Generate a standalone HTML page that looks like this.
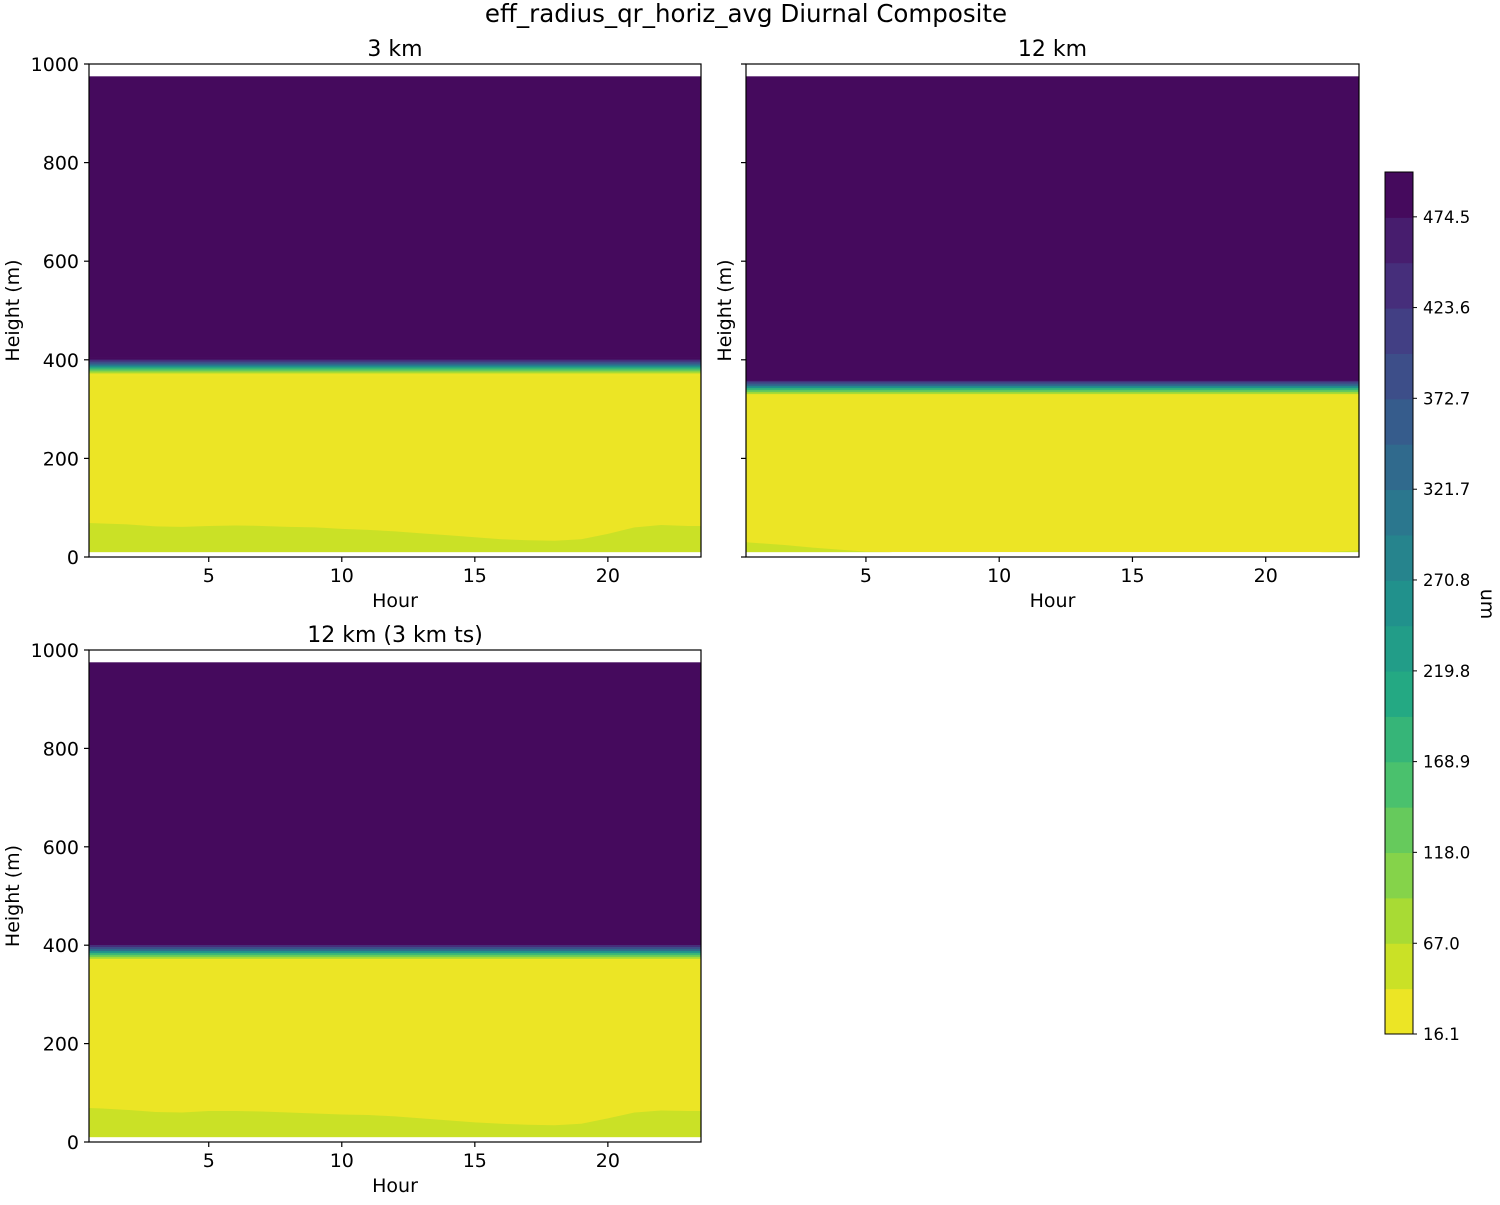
<!DOCTYPE html>
<html><head><meta charset="utf-8">
<style>
html,body{margin:0;padding:0;background:#fff;}
svg text{font-family:"DejaVu Sans","Liberation Sans",sans-serif;fill:#000;}
</style></head>
<body>
<svg id="fig" width="1500" height="1200" xmlns="http://www.w3.org/2000/svg">
<text x="746" y="22" font-size="24.5" text-anchor="middle">eff_radius_qr_horiz_avg Diurnal Composite</text>
</svg>
<script>
// ---- data ----
const hours = [0.5,1,2,3,4,5,6,7,8,9,10,11,12,13,14,15,16,17,18,19,20,21,22,23,23.5];
const greenTop3km = [69,68,66,62,61,63,64,63,61,60,57,55,52,48,44,40,36,34,33,36,47,60,65,63,63];
const greenTop12km = [30,28,24,19,15,11,10,10,10,10,10,10,10,10,10,10,10,10,10,10,10,10,10,12,14];
const greenTop12km3ts = [69,68,65,61,60,63,63,62,60,58,56,55,52,48,44,40,37,35,34,37,48,60,64,63,63];
const transHeights3km = [369,373,377,381,385,389,393,397,401,404];
const transHeights12km = [327,331,335,339,343,347,351,355,358,360];
const transValues = [16.1,45,90,150,220,290,360,420,470,500];
const cbTicks = [16.1,67.0,118.0,168.9,219.8,270.8,321.7,372.7,423.6,474.5];
const levelMin = 16.1, levelStep = 25.45, nLevels = 19;
const dataBottom = 10, dataTop = 975;

const NS = "http://www.w3.org/2000/svg";
const fig = document.getElementById('fig');
function mk(tag, attrs, parent){const e=document.createElementNS(NS,tag);for(const k in attrs)e.setAttribute(k,attrs[k]);(parent||fig).appendChild(e);return e;}

const vir = [[68,1,84],[72,36,117],[65,68,135],[53,95,141],[42,120,142],[33,145,140],[34,168,132],[68,191,112],[122,209,81],[189,223,38],[253,231,37]];
function viridis(t){t=Math.max(0,Math.min(1,t));const p=t*10,i=Math.min(9,Math.floor(p)),f=p-i;const a=vir[i],b=vir[i+1];return `rgb(${a.map((v,j)=>Math.round(v+(b[j]-v)*f)).join(',')})`;}
function levelColor(k){return viridis(1-(k+0.5)/nLevels);} // viridis_r
function valueColor(v){let k=Math.floor((v-levelMin)/levelStep);k=Math.max(0,Math.min(nLevels-1,k));return levelColor(k);}

const TICK=19, LAB=19;
function panel(cfg){
  const {x0,x1,y0,y1,title,green,trans,showYLabels,name}=cfg;
  const g=mk('g',{});
  
  
  const xs=h=>x0+(h-0.5)/(23)*(x1-x0);
  const ys=m=>y1-m/1000*(y1-y0);
  const top=mk('rect',{x:xs(0.5),y:ys(dataTop),width:xs(23.5)-xs(0.5),height:ys(trans[trans.length-1])-ys(dataTop),fill:valueColor(transValues[transValues.length-1])},g);
  
  
  for(let i=0;i<trans.length-1;i++){
    const r=mk('rect',{x:xs(0.5),y:ys(trans[i+1])-0.3,width:xs(23.5)-xs(0.5),height:ys(trans[i])-ys(trans[i+1])+0.6,fill:valueColor((transValues[i]+transValues[i+1])/2)},g);
    
    
  }
  const yl=mk('rect',{x:xs(0.5),y:ys(trans[0]),width:xs(23.5)-xs(0.5),height:ys(dataBottom)-ys(trans[0]),fill:levelColor(0)},g);
  
  
  let d=`M${xs(hours[0])},${ys(dataBottom)}`;
  hours.forEach((h,i)=>{d+=` L${xs(h)},${ys(green[i])}`;});
  d+=` L${xs(hours[hours.length-1])},${ys(dataBottom)} Z`;
  const gp=mk('path',{d:d,fill:levelColor(1)},g);
  
  
  const fr=mk('rect',{x:x0,y:y0,width:x1-x0,height:y1-y0,fill:'none',stroke:'#000','stroke-width':1.2},g);
  
  
  [5,10,15,20].forEach(t=>{
    mk('line',{x1:xs(t),x2:xs(t),y1:y1,y2:y1+5,stroke:'#000','stroke-width':1.2},g);
    const tx=mk('text',{x:xs(t),y:y1+25,'font-size':TICK,'text-anchor':'middle'},g);tx.textContent=t;
    
    
  });
  [0,200,400,600,800,1000].forEach(t=>{
    mk('line',{x1:x0-5,x2:x0,y1:ys(t),y2:ys(t),stroke:'#000','stroke-width':1.2},g);
    if(showYLabels){const tx=mk('text',{x:x0-10,y:ys(t)+7,'font-size':TICK,'text-anchor':'end'},g);tx.textContent=t;
      
      }
  });
  const xl=mk('text',{x:(x0+x1)/2,y:y1+50,'font-size':LAB,'text-anchor':'middle'},g);xl.textContent='Hour';
  
  
  const ylx=showYLabels?x0-70:x0-15;
  const yl2=mk('text',{x:ylx,y:(y0+y1)/2,'font-size':LAB,'text-anchor':'middle',transform:`rotate(-90 ${ylx} ${(y0+y1)/2})`},g);yl2.textContent='Height (m)';
  
  
  const tt=mk('text',{x:(x0+x1)/2,y:y0-8,'font-size':22,'text-anchor':'middle'},g);tt.textContent=title;
  
  
}
panel({name:'panel-3km',x0:89,x1:701,y0:64,y1:557,title:'3 km',green:greenTop3km,trans:transHeights3km,showYLabels:true});
panel({name:'panel-12km',x0:746,x1:1359,y0:64,y1:557,title:'12 km',green:greenTop12km,trans:transHeights12km,showYLabels:false});
panel({name:'panel-12km-3km-ts',x0:89,x1:701,y0:650,y1:1142,title:'12 km (3 km ts)',green:greenTop12km3ts,trans:transHeights3km,showYLabels:true});

(function(){
  const cx=1385,cw=28,cTop=172,cBot=1034;
  const g=mk('g',{});
  
  
  const vmax=levelMin+nLevels*levelStep;
  const cy=v=>cBot-(v-levelMin)/(vmax-levelMin)*(cBot-cTop);
  for(let k=0;k<nLevels;k++){
    const r=mk('rect',{x:cx,y:cy(levelMin+(k+1)*levelStep),width:cw,height:cy(levelMin+k*levelStep)-cy(levelMin+(k+1)*levelStep)+0.5,fill:levelColor(k)},g);
    
    
  }
  mk('rect',{x:cx,y:cTop,width:cw,height:cBot-cTop,fill:'none',stroke:'#000','stroke-width':1},g);
  cbTicks.forEach(t=>{
    mk('line',{x1:cx+cw,x2:cx+cw+4,y1:cy(t),y2:cy(t),stroke:'#000','stroke-width':1},g);
    const tx=mk('text',{x:cx+cw+10,y:cy(t)+6,'font-size':16.5},g);tx.textContent=t.toFixed(1);
    
    
  });
  const lb=mk('text',{x:1481,y:604,'font-size':LAB,'text-anchor':'middle',transform:'rotate(90 1481 604)'},g);lb.textContent='um';
  
  
})();
</script>
</body></html>
